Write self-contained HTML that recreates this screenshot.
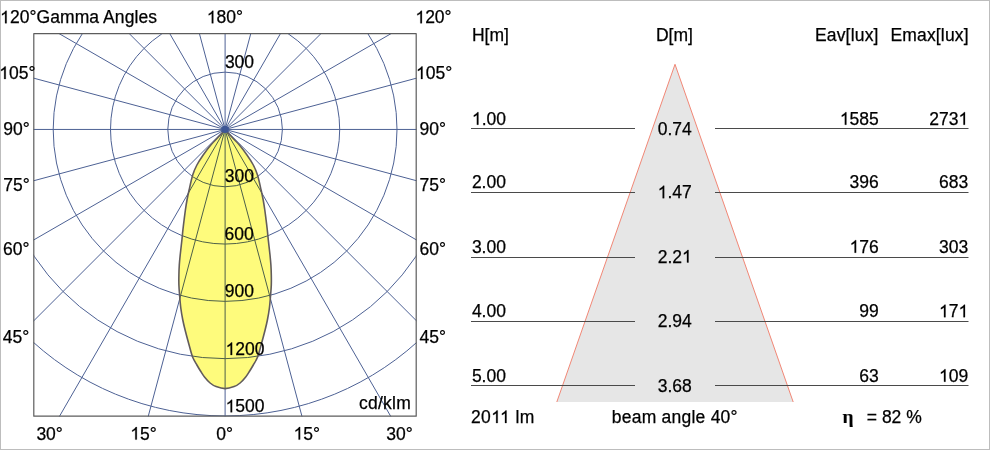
<!DOCTYPE html>
<html><head><meta charset="utf-8"><style>
html,body{margin:0;padding:0;background:#fff;width:990px;height:450px;overflow:hidden}
svg{display:block}
text{font-family:"Liberation Sans",sans-serif;font-size:17.5px;fill:#000;stroke:#000;stroke-width:0.25px}
.o{fill-opacity:0;stroke-opacity:0}
</style></head><body>
<svg width="990" height="450" viewBox="0 0 990 450" style="will-change:transform">
<rect x="0.5" y="0.5" width="989" height="449" fill="#fff" stroke="#bdbdbd" stroke-width="1"/>
<defs><filter id="bl" x="-1" y="-1" width="3" height="3"><feGaussianBlur stdDeviation="0.7"/></filter><clipPath id="fr"><rect x="33.5" y="33.5" width="383" height="383"/></clipPath></defs>
<g clip-path="url(#fr)">
<g stroke="#4d6194" stroke-width="1" fill="none">
<line x1="225.1" y1="129.45" x2="825.10" y2="129.45"/>
<line x1="225.1" y1="129.45" x2="804.66" y2="284.74"/>
<line x1="225.1" y1="129.45" x2="744.72" y2="429.45"/>
<line x1="225.1" y1="129.45" x2="649.36" y2="553.71"/>
<line x1="225.1" y1="129.45" x2="525.10" y2="649.07"/>
<line x1="225.1" y1="129.45" x2="380.39" y2="709.01"/>
<line x1="225.1" y1="129.45" x2="225.10" y2="729.45"/>
<line x1="225.1" y1="129.45" x2="69.81" y2="709.01"/>
<line x1="225.1" y1="129.45" x2="-74.90" y2="649.07"/>
<line x1="225.1" y1="129.45" x2="-199.16" y2="553.71"/>
<line x1="225.1" y1="129.45" x2="-294.52" y2="429.45"/>
<line x1="225.1" y1="129.45" x2="-354.46" y2="284.74"/>
<line x1="225.1" y1="129.45" x2="-374.90" y2="129.45"/>
<line x1="225.1" y1="129.45" x2="-354.46" y2="-25.84"/>
<line x1="225.1" y1="129.45" x2="-294.52" y2="-170.55"/>
<line x1="225.1" y1="129.45" x2="-199.16" y2="-294.81"/>
<line x1="225.1" y1="129.45" x2="-74.90" y2="-390.17"/>
<line x1="225.1" y1="129.45" x2="69.81" y2="-450.11"/>
<line x1="225.1" y1="129.45" x2="225.10" y2="-470.55"/>
<line x1="225.1" y1="129.45" x2="380.39" y2="-450.11"/>
<line x1="225.1" y1="129.45" x2="525.10" y2="-390.17"/>
<line x1="225.1" y1="129.45" x2="649.36" y2="-294.81"/>
<line x1="225.1" y1="129.45" x2="744.72" y2="-170.55"/>
<line x1="225.1" y1="129.45" x2="804.66" y2="-25.84"/>
<circle cx="225.1" cy="129.45" r="57.30"/>
<circle cx="225.1" cy="129.45" r="114.60"/>
<circle cx="225.1" cy="129.45" r="171.90"/>
<circle cx="225.1" cy="129.45" r="229.20"/>
<circle cx="225.1" cy="129.45" r="286.50"/>
</g>
<path d="M225.10,129.50 C225.90,130.42 227.52,132.42 229.90,135.00 C232.28,137.58 236.55,141.67 239.40,145.00 C242.25,148.33 244.68,151.67 247.00,155.00 C249.32,158.33 251.55,161.67 253.30,165.00 C255.05,168.33 256.20,170.83 257.50,175.00 C258.80,179.17 260.15,185.83 261.10,190.00 C262.05,194.17 262.58,196.67 263.20,200.00 C263.82,203.33 264.32,206.67 264.80,210.00 C265.28,213.33 265.68,216.67 266.10,220.00 C266.52,223.33 266.93,226.67 267.30,230.00 C267.67,233.33 267.85,235.83 268.30,240.00 C268.75,244.17 269.57,250.83 270.00,255.00 C270.43,259.17 270.68,261.67 270.90,265.00 C271.12,268.33 271.23,271.67 271.30,275.00 C271.37,278.33 271.42,281.67 271.30,285.00 C271.18,288.33 270.92,291.17 270.60,295.00 C270.28,298.83 269.93,303.83 269.40,308.00 C268.87,312.17 268.12,316.33 267.40,320.00 C266.68,323.67 266.15,325.83 265.10,330.00 C264.05,334.17 262.35,340.50 261.10,345.00 C259.85,349.50 258.90,353.67 257.60,357.00 C256.30,360.33 254.62,362.67 253.30,365.00 C251.98,367.33 250.97,369.00 249.70,371.00 C248.43,373.00 247.30,375.00 245.70,377.00 C244.10,379.00 242.03,381.40 240.10,383.00 C238.17,384.60 236.60,385.67 234.10,386.60 C231.60,387.53 228.10,388.60 225.10,388.60 C222.10,388.60 218.60,387.53 216.10,386.60 C213.60,385.67 212.03,384.60 210.10,383.00 C208.17,381.40 206.10,379.00 204.50,377.00 C202.90,375.00 201.77,373.00 200.50,371.00 C199.23,369.00 198.22,367.33 196.90,365.00 C195.58,362.67 193.90,360.33 192.60,357.00 C191.30,353.67 190.35,349.50 189.10,345.00 C187.85,340.50 186.15,334.17 185.10,330.00 C184.05,325.83 183.52,323.67 182.80,320.00 C182.08,316.33 181.33,312.17 180.80,308.00 C180.27,303.83 179.92,298.83 179.60,295.00 C179.28,291.17 179.02,288.33 178.90,285.00 C178.78,281.67 178.83,278.33 178.90,275.00 C178.97,271.67 179.08,268.33 179.30,265.00 C179.52,261.67 179.77,259.17 180.20,255.00 C180.63,250.83 181.45,244.17 181.90,240.00 C182.35,235.83 182.53,233.33 182.90,230.00 C183.27,226.67 183.68,223.33 184.10,220.00 C184.52,216.67 184.92,213.33 185.40,210.00 C185.88,206.67 186.38,203.33 187.00,200.00 C187.62,196.67 188.15,194.17 189.10,190.00 C190.05,185.83 191.40,179.17 192.70,175.00 C194.00,170.83 195.15,168.33 196.90,165.00 C198.65,161.67 200.88,158.33 203.20,155.00 C205.52,151.67 207.95,148.33 210.80,145.00 C213.65,141.67 217.92,137.58 220.30,135.00 C222.68,132.42 224.30,130.42 225.10,129.50Z" fill="#fefb7c" style="mix-blend-mode:multiply"/>
<path d="M225.10,129.50 C225.90,130.42 227.52,132.42 229.90,135.00 C232.28,137.58 236.55,141.67 239.40,145.00 C242.25,148.33 244.68,151.67 247.00,155.00 C249.32,158.33 251.55,161.67 253.30,165.00 C255.05,168.33 256.20,170.83 257.50,175.00 C258.80,179.17 260.15,185.83 261.10,190.00 C262.05,194.17 262.58,196.67 263.20,200.00 C263.82,203.33 264.32,206.67 264.80,210.00 C265.28,213.33 265.68,216.67 266.10,220.00 C266.52,223.33 266.93,226.67 267.30,230.00 C267.67,233.33 267.85,235.83 268.30,240.00 C268.75,244.17 269.57,250.83 270.00,255.00 C270.43,259.17 270.68,261.67 270.90,265.00 C271.12,268.33 271.23,271.67 271.30,275.00 C271.37,278.33 271.42,281.67 271.30,285.00 C271.18,288.33 270.92,291.17 270.60,295.00 C270.28,298.83 269.93,303.83 269.40,308.00 C268.87,312.17 268.12,316.33 267.40,320.00 C266.68,323.67 266.15,325.83 265.10,330.00 C264.05,334.17 262.35,340.50 261.10,345.00 C259.85,349.50 258.90,353.67 257.60,357.00 C256.30,360.33 254.62,362.67 253.30,365.00 C251.98,367.33 250.97,369.00 249.70,371.00 C248.43,373.00 247.30,375.00 245.70,377.00 C244.10,379.00 242.03,381.40 240.10,383.00 C238.17,384.60 236.60,385.67 234.10,386.60 C231.60,387.53 228.10,388.60 225.10,388.60 C222.10,388.60 218.60,387.53 216.10,386.60 C213.60,385.67 212.03,384.60 210.10,383.00 C208.17,381.40 206.10,379.00 204.50,377.00 C202.90,375.00 201.77,373.00 200.50,371.00 C199.23,369.00 198.22,367.33 196.90,365.00 C195.58,362.67 193.90,360.33 192.60,357.00 C191.30,353.67 190.35,349.50 189.10,345.00 C187.85,340.50 186.15,334.17 185.10,330.00 C184.05,325.83 183.52,323.67 182.80,320.00 C182.08,316.33 181.33,312.17 180.80,308.00 C180.27,303.83 179.92,298.83 179.60,295.00 C179.28,291.17 179.02,288.33 178.90,285.00 C178.78,281.67 178.83,278.33 178.90,275.00 C178.97,271.67 179.08,268.33 179.30,265.00 C179.52,261.67 179.77,259.17 180.20,255.00 C180.63,250.83 181.45,244.17 181.90,240.00 C182.35,235.83 182.53,233.33 182.90,230.00 C183.27,226.67 183.68,223.33 184.10,220.00 C184.52,216.67 184.92,213.33 185.40,210.00 C185.88,206.67 186.38,203.33 187.00,200.00 C187.62,196.67 188.15,194.17 189.10,190.00 C190.05,185.83 191.40,179.17 192.70,175.00 C194.00,170.83 195.15,168.33 196.90,165.00 C198.65,161.67 200.88,158.33 203.20,155.00 C205.52,151.67 207.95,148.33 210.80,145.00 C213.65,141.67 217.92,137.58 220.30,135.00 C222.68,132.42 224.30,130.42 225.10,129.50Z" fill="none" stroke="#625c5c" stroke-width="1.6"/>
<circle cx="225.1" cy="129.45" r="3.6" fill="#3e5696" filter="url(#bl)"/>
</g>
<rect x="33.8" y="33.7" width="382.4" height="382.5" fill="none" stroke="#5c5c5c" stroke-width="1.2" stroke-linejoin="round"/>
<polygon points="675,64.3 556.8,402 793.2,402" fill="#e6e6e6"/>
<polyline points="556.8,402 675,64.3 793.2,402" fill="none" stroke="#f07a68" stroke-width="0.9"/>
<g stroke="#4a4a4a" stroke-width="1">
<line x1="471" y1="128.5" x2="635" y2="128.5"/><line x1="715" y1="128.5" x2="968.5" y2="128.5"/>
<line x1="471" y1="192.5" x2="635" y2="192.5"/><line x1="715" y1="192.5" x2="968.5" y2="192.5"/>
<line x1="471" y1="257.5" x2="635" y2="257.5"/><line x1="715" y1="257.5" x2="968.5" y2="257.5"/>
<line x1="471" y1="321.5" x2="635" y2="321.5"/><line x1="715" y1="321.5" x2="968.5" y2="321.5"/>
<line x1="471" y1="385.5" x2="635" y2="385.5"/><line x1="715" y1="385.5" x2="968.5" y2="385.5"/>
</g>
<text x="0.1" y="23.3" style="letter-spacing:0.067px"><tspan class="o">1</tspan>20°Gamma Angles</text>
<text x="206.8" y="23.3"><tspan class="o">1</tspan>80°</text>
<text x="415.4" y="23.3"><tspan class="o">1</tspan>20°</text>
<text x="-0.8" y="79.0"><tspan class="o">1</tspan>05°</text>
<text x="416.0" y="79.0"><tspan class="o">1</tspan>05°</text>
<text x="3.3" y="135.0">90°</text>
<text x="419.5" y="135.0">90°</text>
<text x="3.2" y="191.0">75°</text>
<text x="419.5" y="191.0">75°</text>
<text x="3.1" y="255.4">60°</text>
<text x="419.5" y="255.4">60°</text>
<text x="2.8" y="343.0">45°</text>
<text x="419.5" y="343.0">45°</text>
<text x="36.4" y="439.6">30°</text>
<text x="130.3" y="439.6"><tspan class="o">1</tspan>5°</text>
<text x="216.3" y="439.6">0°</text>
<text x="293.6" y="439.6"><tspan class="o">1</tspan>5°</text>
<text x="386.3" y="439.6">30°</text>
<text x="224.9" y="67.7">300</text>
<text x="224.7" y="182.4">300</text>
<text x="224.6" y="240">600</text>
<text x="224.7" y="297.3">900</text>
<text x="225.6" y="355"><tspan class="o">1</tspan>200</text>
<text x="225.6" y="412.3"><tspan class="o">1</tspan>500</text>
<text x="359.0" y="408.8" style="letter-spacing:0.240px">cd/klm</text>
<text x="471.9" y="40.7">H[m]</text>
<text x="655.9" y="40.7">D[m]</text>
<text x="814.9" y="40.7" style="letter-spacing:0.186px">Eav[lux]</text>
<text x="890.4" y="40.7" style="letter-spacing:0.175px">Emax[lux]</text>
<text x="470.9" y="423" style="letter-spacing:0.400px">20<tspan class="o">1</tspan><tspan class="o">1</tspan> lm</text>
<text x="611.8" y="422.8" style="letter-spacing:0.231px">beam angle 40°</text>
<text x="866.8" y="423.3">= 82 %</text>
<text x="471.9" y="124.7"><tspan class="o">1</tspan>.00</text>
<text x="674.7" y="134.5" text-anchor="middle">0.74</text>
<text x="878.8" y="124.7" text-anchor="end"><tspan class="o">1</tspan>585</text>
<text x="968.2" y="124.7" text-anchor="end">273<tspan class="o">1</tspan></text>
<text x="471.9" y="188.4">2.00</text>
<text x="674.7" y="198.20000000000002" text-anchor="middle"><tspan class="o">1</tspan>.47</text>
<text x="878.8" y="188.4" text-anchor="end">396</text>
<text x="968.2" y="188.4" text-anchor="end">683</text>
<text x="471.9" y="252.7">3.00</text>
<text x="674.7" y="262.5" text-anchor="middle">2.2<tspan class="o">1</tspan></text>
<text x="878.8" y="252.7" text-anchor="end"><tspan class="o">1</tspan>76</text>
<text x="968.2" y="252.7" text-anchor="end">303</text>
<text x="471.9" y="317.2">4.00</text>
<text x="674.7" y="327.0" text-anchor="middle">2.94</text>
<text x="878.8" y="317.2" text-anchor="end">99</text>
<text x="968.2" y="317.2" text-anchor="end"><tspan class="o">1</tspan>7<tspan class="o">1</tspan></text>
<text x="471.9" y="381.7">5.00</text>
<text x="674.7" y="391.5" text-anchor="middle">3.68</text>
<text x="878.8" y="381.7" text-anchor="end">63</text>
<text x="968.2" y="381.7" text-anchor="end"><tspan class="o">1</tspan>09</text>
<g fill="#000" stroke="#000" stroke-width="29.3"><path transform="translate(0.10,23.30) scale(0.008545,-0.008545)" d="M763,0L583,0L583,1147C540,1106 483,1065 413,1024C343,983 280,952 224,931L224,1104C325,1151 413,1208 488,1275C563,1342 616,1406 647,1466L763,1466Z"/>
<path transform="translate(206.80,23.30) scale(0.008545,-0.008545)" d="M763,0L583,0L583,1147C540,1106 483,1065 413,1024C343,983 280,952 224,931L224,1104C325,1151 413,1208 488,1275C563,1342 616,1406 647,1466L763,1466Z"/>
<path transform="translate(415.40,23.30) scale(0.008545,-0.008545)" d="M763,0L583,0L583,1147C540,1106 483,1065 413,1024C343,983 280,952 224,931L224,1104C325,1151 413,1208 488,1275C563,1342 616,1406 647,1466L763,1466Z"/>
<path transform="translate(-0.80,79.00) scale(0.008545,-0.008545)" d="M763,0L583,0L583,1147C540,1106 483,1065 413,1024C343,983 280,952 224,931L224,1104C325,1151 413,1208 488,1275C563,1342 616,1406 647,1466L763,1466Z"/>
<path transform="translate(416.00,79.00) scale(0.008545,-0.008545)" d="M763,0L583,0L583,1147C540,1106 483,1065 413,1024C343,983 280,952 224,931L224,1104C325,1151 413,1208 488,1275C563,1342 616,1406 647,1466L763,1466Z"/>
<path transform="translate(130.30,439.60) scale(0.008545,-0.008545)" d="M763,0L583,0L583,1147C540,1106 483,1065 413,1024C343,983 280,952 224,931L224,1104C325,1151 413,1208 488,1275C563,1342 616,1406 647,1466L763,1466Z"/>
<path transform="translate(293.60,439.60) scale(0.008545,-0.008545)" d="M763,0L583,0L583,1147C540,1106 483,1065 413,1024C343,983 280,952 224,931L224,1104C325,1151 413,1208 488,1275C563,1342 616,1406 647,1466L763,1466Z"/>
<path transform="translate(225.60,355.00) scale(0.008545,-0.008545)" d="M763,0L583,0L583,1147C540,1106 483,1065 413,1024C343,983 280,952 224,931L224,1104C325,1151 413,1208 488,1275C563,1342 616,1406 647,1466L763,1466Z"/>
<path transform="translate(225.60,412.30) scale(0.008545,-0.008545)" d="M763,0L583,0L583,1147C540,1106 483,1065 413,1024C343,983 280,952 224,931L224,1104C325,1151 413,1208 488,1275C563,1342 616,1406 647,1466L763,1466Z"/>
<path transform="translate(491.17,423.00) scale(0.008545,-0.008545)" d="M763,0L583,0L583,1147C540,1106 483,1065 413,1024C343,983 280,952 224,931L224,1104C325,1151 413,1208 488,1275C563,1342 616,1406 647,1466L763,1466Z"/>
<path transform="translate(500.01,423.00) scale(0.008545,-0.008545)" d="M763,0L583,0L583,1147C540,1106 483,1065 413,1024C343,983 280,952 224,931L224,1104C325,1151 413,1208 488,1275C563,1342 616,1406 647,1466L763,1466Z"/>
<path transform="translate(471.90,124.70) scale(0.008545,-0.008545)" d="M763,0L583,0L583,1147C540,1106 483,1065 413,1024C343,983 280,952 224,931L224,1104C325,1151 413,1208 488,1275C563,1342 616,1406 647,1466L763,1466Z"/>
<path transform="translate(839.86,124.70) scale(0.008545,-0.008545)" d="M763,0L583,0L583,1147C540,1106 483,1065 413,1024C343,983 280,952 224,931L224,1104C325,1151 413,1208 488,1275C563,1342 616,1406 647,1466L763,1466Z"/>
<path transform="translate(958.47,124.70) scale(0.008545,-0.008545)" d="M763,0L583,0L583,1147C540,1106 483,1065 413,1024C343,983 280,952 224,931L224,1104C325,1151 413,1208 488,1275C563,1342 616,1406 647,1466L763,1466Z"/>
<path transform="translate(657.67,198.20) scale(0.008545,-0.008545)" d="M763,0L583,0L583,1147C540,1106 483,1065 413,1024C343,983 280,952 224,931L224,1104C325,1151 413,1208 488,1275C563,1342 616,1406 647,1466L763,1466Z"/>
<path transform="translate(682.00,262.50) scale(0.008545,-0.008545)" d="M763,0L583,0L583,1147C540,1106 483,1065 413,1024C343,983 280,952 224,931L224,1104C325,1151 413,1208 488,1275C563,1342 616,1406 647,1466L763,1466Z"/>
<path transform="translate(849.60,252.70) scale(0.008545,-0.008545)" d="M763,0L583,0L583,1147C540,1106 483,1065 413,1024C343,983 280,952 224,931L224,1104C325,1151 413,1208 488,1275C563,1342 616,1406 647,1466L763,1466Z"/>
<path transform="translate(939.00,317.20) scale(0.008545,-0.008545)" d="M763,0L583,0L583,1147C540,1106 483,1065 413,1024C343,983 280,952 224,931L224,1104C325,1151 413,1208 488,1275C563,1342 616,1406 647,1466L763,1466Z"/>
<path transform="translate(958.47,317.20) scale(0.008545,-0.008545)" d="M763,0L583,0L583,1147C540,1106 483,1065 413,1024C343,983 280,952 224,931L224,1104C325,1151 413,1208 488,1275C563,1342 616,1406 647,1466L763,1466Z"/>
<path transform="translate(939.00,381.70) scale(0.008545,-0.008545)" d="M763,0L583,0L583,1147C540,1106 483,1065 413,1024C343,983 280,952 224,931L224,1104C325,1151 413,1208 488,1275C563,1342 616,1406 647,1466L763,1466Z"/></g>
<text transform="translate(842.4,422.6) scale(1.08,1)" x="0" y="0" style="font-family:'Liberation Serif',serif;font-size:18px;font-weight:bold;stroke-width:0.1px">η</text>
</svg>
</body></html>
